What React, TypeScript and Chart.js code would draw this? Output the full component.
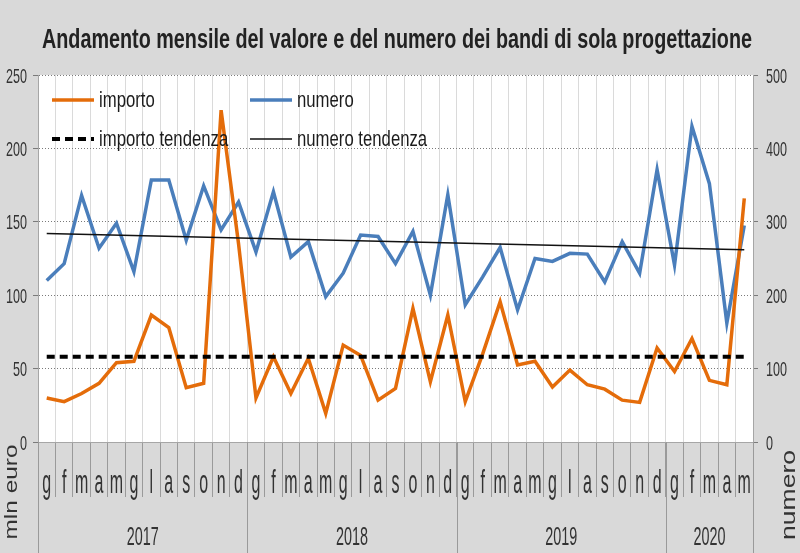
import React, { useEffect, useRef } from 'react';
import { Chart, registerables } from 'chart.js';

Chart.register(...registerables);

// ---------- data ----------
const titleText = 'Andamento mensile del valore e del numero dei bandi di sola progettazione';
const years = ['2017', '2018', '2019', '2020'];
const monthsPerYear = [12, 12, 12, 5];
const monthLetters = ['g', 'f', 'm', 'a', 'm', 'g', 'l', 'a', 's', 'o', 'n', 'd'];
const categories: string[] = years.flatMap((_, k) => monthLetters.slice(0, monthsPerYear[k]));

// importo (mln euro, left axis)
const importo = [
  30, 27.5, 33, 40, 54, 55, 86.5, 78, 37, 40, 226, 135,
  30, 58, 33, 57, 19.5, 66, 59, 28.5, 36.5, 91, 41, 86.5,
  27.5, 60, 95.5, 52.5, 55, 37.5, 49, 39, 36, 28.5, 27, 64,
  48, 70.5, 42, 39, 166,
];
// numero (right axis)
const numero = [
  220, 243, 336, 264, 298, 232, 357, 357, 275, 349, 289, 327,
  259, 341, 252, 273, 198, 230, 282, 280, 243, 287, 200, 337,
  187, 225, 265, 180, 250, 246, 257, 256, 218, 273, 230, 371,
  241, 430, 352, 162, 295,
];
// trend lines: start and end values
const importoTrendEnds = [58, 58];
const numeroTrendEnds = [284, 262];

const leftTicks = [0, 50, 100, 150, 200, 250];
const rightTicks = [0, 100, 200, 300, 400, 500];

const legendLabels = ['importo', 'numero', 'importo tendenza', 'numero tendenza'];
const leftAxisTitle = 'mln euro';
const rightAxisTitle = 'numero';

// ---------- styles ----------
const ORANGE = '#e46c0a';
const BLUE = '#4a7ebb';
const BG = '#d9d9d9';
const TEXT = '#1c1c1c';
const FONT = '"Liberation Sans", Arial, sans-serif';

const endsToSeries = (ends: number[]) =>
  categories.map((_, i) => (i === 0 ? ends[0] : i === categories.length - 1 ? ends[1] : null));

type TextOpts = {
  size: number;
  sx?: number;
  width?: number;
  bold?: boolean;
  align?: CanvasTextAlign;
  baseline?: CanvasTextBaseline;
  color?: string;
  rotate?: number;
};

function drawText(ctx: CanvasRenderingContext2D, text: string, x: number, y: number, o: TextOpts) {
  ctx.save();
  ctx.translate(x, y);
  if (o.rotate) ctx.rotate(o.rotate);
  ctx.font = `${o.bold ? 'bold ' : ''}${o.size}px ${FONT}`;
  let sx = o.sx ?? 1;
  if (o.width) sx = o.width / ctx.measureText(text).width;
  ctx.scale(sx, 1);
  ctx.textAlign = o.align ?? 'left';
  ctx.textBaseline = o.baseline ?? 'alphabetic';
  ctx.fillStyle = o.color ?? TEXT;
  ctx.fillText(text, 0, 0);
  ctx.restore();
}

const decorPlugin = {
  id: 'decor',
  beforeDraw(chart: any) {
    const { ctx, chartArea: a, width, height } = chart;
    ctx.save();
    ctx.fillStyle = BG;
    ctx.fillRect(0, 0, width, height);
    ctx.fillStyle = '#ffffff';
    ctx.fillRect(a.left, a.top, a.right - a.left, a.bottom - a.top);
    ctx.restore();
  },
  afterDraw(chart: any) {
    const { ctx, chartArea: a } = chart;
    const xs = chart.scales.x;
    const yl = chart.scales.y;
    const yr = chart.scales.y1;
    const half = (xs.getPixelForValue(1) - xs.getPixelForValue(0)) / 2;

    // title
    drawText(ctx, titleText, 397, 48, { size: 28, bold: true, width: 710, align: 'center', color: '#222' });

    // y tick labels
    yl.ticks.forEach((t: any) => {
      const y = yl.getPixelForValue(t.value);
      drawText(ctx, String(t.value), 27, y + 7.5, { size: 21, sx: 0.6, align: 'right', color: '#333' });
    });
    yr.ticks.forEach((t: any) => {
      const y = yr.getPixelForValue(t.value);
      drawText(ctx, String(t.value), 766, y + 7.5, { size: 21, sx: 0.6, align: 'left', color: '#333' });
    });

    // month labels
    categories.forEach((c, i) => {
      drawText(ctx, c, xs.getPixelForValue(i), 493, { size: 34, sx: 0.47, align: 'center', color: '#333' });
    });

    // year separators and labels
    ctx.save();
    ctx.strokeStyle = '#9a9a9a';
    ctx.lineWidth = 1;
    let start = 0;
    const bounds = [0];
    monthsPerYear.forEach((n) => {
      start += n;
      bounds.push(start);
    });
    bounds.forEach((b) => {
      const x = Math.round(xs.getPixelForValue(b) - half) + 0.5;
      ctx.beginPath();
      ctx.moveTo(x, a.bottom);
      ctx.lineTo(x, chart.height);
      ctx.stroke();
    });
    ctx.restore();
    years.forEach((yr2, k) => {
      const x0 = xs.getPixelForValue(bounds[k]) - half;
      const x1 = xs.getPixelForValue(bounds[k + 1] - 1) + half;
      drawText(ctx, yr2, (x0 + x1) / 2, 545, { size: 25, sx: 0.575, align: 'center', color: '#333' });
    });

    // axis titles
    drawText(ctx, leftAxisTitle, 17, 492, { size: 19, width: 95, align: 'center', rotate: -Math.PI / 2, color: '#333' });
    drawText(ctx, rightAxisTitle, 795, 495, { size: 21, width: 90, align: 'center', rotate: -Math.PI / 2, color: '#333' });

    // legend
    const pos = [
      { col: 0, row: 0 },
      { col: 1, row: 0 },
      { col: 0, row: 1 },
      { col: 1, row: 1 },
    ];
    const colX = [a.left + 14, a.left + 212];
    const rowY = [a.top + 25, a.top + 64];
    pos.forEach((p, i) => {
      const ds = chart.data.datasets[i];
      const x = colX[p.col];
      const y = rowY[p.row];
      ctx.save();
      ctx.strokeStyle = ds.borderColor;
      ctx.lineWidth = ds.borderWidth;
      ctx.setLineDash(ds.borderDash || []);
      ctx.beginPath();
      ctx.moveTo(x, y);
      ctx.lineTo(x + 42, y);
      ctx.stroke();
      ctx.restore();
      drawText(ctx, legendLabels[i], x + 47, y + 7, { size: 22, sx: 0.76, align: 'left', color: TEXT });
    });
  },
};

export default function App() {
  const ref = useRef<HTMLCanvasElement>(null);
  useEffect(() => {
    document.body.style.margin = '0';
    const canvas = ref.current!;
    const chart = new Chart(canvas, {
      type: 'line',
      data: {
        labels: categories,
        datasets: [
          { label: legendLabels[0], data: importo, yAxisID: 'y', borderColor: ORANGE, borderWidth: 3.5, pointRadius: 0, tension: 0, order: 1 },
          { label: legendLabels[1], data: numero, yAxisID: 'y1', borderColor: BLUE, borderWidth: 3.5, pointRadius: 0, tension: 0, order: 2 },
          { label: legendLabels[2], data: endsToSeries(importoTrendEnds), yAxisID: 'y', borderColor: '#000', borderWidth: 4, borderDash: [8, 5], spanGaps: true, pointRadius: 0, order: 0 },
          { label: legendLabels[3], data: endsToSeries(numeroTrendEnds), yAxisID: 'y1', borderColor: '#111', borderWidth: 1.5, spanGaps: true, pointRadius: 0, order: 0 },
        ],
      },
      options: {
        responsive: false,
        animation: false,
        layout: { padding: { top: 75, left: 0, right: 0, bottom: 0 } },
        plugins: { legend: { display: false }, tooltip: { enabled: false }, title: { display: false } },
        scales: {
          x: {
            type: 'category',
            offset: true,
            grid: { offset: true, color: '#dadada', tickColor: '#9a9a9a', tickLength: 55, drawTicks: true },
            ticks: { display: false },
            border: { color: '#a6a6a6' },
            afterFit: (s: any) => { s.height = 111; },
          },
          y: {
            position: 'left',
            min: leftTicks[0],
            max: leftTicks[leftTicks.length - 1],
            ticks: { stepSize: leftTicks[1] - leftTicks[0], display: false },
            grid: { color: '#7a7a7a', tickColor: '#7a7a7a', tickLength: 5, tickBorderDash: [] },
            border: { color: '#a6a6a6', dash: [1, 2] },
            afterFit: (s: any) => { s.width = 38; },
          },
          y1: {
            position: 'right',
            min: rightTicks[0],
            max: rightTicks[rightTicks.length - 1],
            ticks: { stepSize: rightTicks[1] - rightTicks[0], display: false },
            grid: { drawOnChartArea: false, tickColor: '#7a7a7a', tickLength: 5 },
            border: { color: '#a6a6a6' },
            afterFit: (s: any) => { s.width = 47; },
          },
        },
      },
      plugins: [decorPlugin],
    });
    return () => chart.destroy();
  }, []);
  return <canvas ref={ref} width={800} height={553} style={{ display: 'block', width: 800, height: 553 }} />;
}
